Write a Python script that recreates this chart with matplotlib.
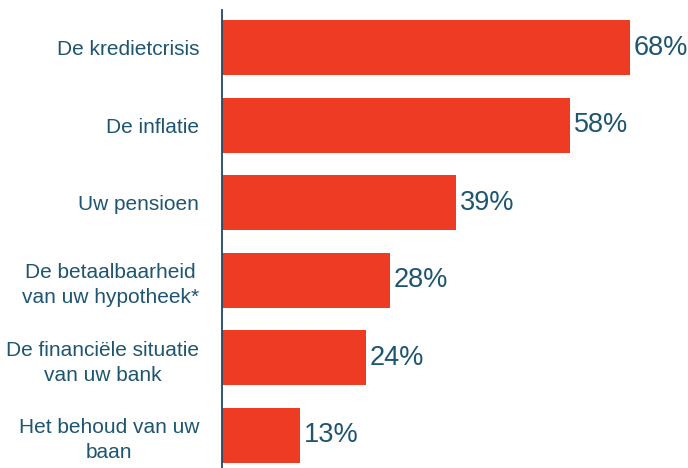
import matplotlib
matplotlib.use("Agg")
import matplotlib.pyplot as plt

categories = ["De kredietcrisis", "De inflatie", "Uw pensioen",
              "De betaalbaarheid\nvan uw hypotheek*",
              "De financiële situatie\nvan uw bank",
              "Het behoud van uw\nbaan"]
values = [68, 58, 39, 28, 24, 13]
value_labels = ["68%", "58%", "39%", "28%", "24%", "13%"]

bar_color = "#EE3B24"
text_color = "#1E5570"
axis_color = "#1E4A66"

plt.rcParams['font.family'] = ['Liberation Sans', 'DejaVu Sans']

fig = plt.figure(figsize=(6.88, 4.68), dpi=100)
ax = fig.add_axes([222/688, 0, 1 - 222/688, 1 - 10/468])

y = list(range(len(categories)))
ax.barh(y, values, height=0.71, color=bar_color)
ax.set_xlim(0, (688 - 222) / 6.0)
ax.set_ylim(len(categories) - 1 + 0.42, -0.49)

for yi, v, lab in zip(y, values, value_labels):
    ax.annotate(lab, (v, yi), xytext=(2.5, 0), textcoords="offset points",
                ha="left", va="center", fontsize=19.5, color=text_color)

ax.set_yticks(y)
ax.set_yticklabels(categories, fontsize=15, color=text_color,
                   multialignment="center", linespacing=1.4)
ax.tick_params(axis="y", length=0, pad=16.5)
ax.set_xticks([])
for s in ["top", "right", "bottom"]:
    ax.spines[s].set_visible(False)
ax.spines["left"].set_color(axis_color)
ax.spines["left"].set_linewidth(1.3)

fig.savefig("out.png", dpi=100)
